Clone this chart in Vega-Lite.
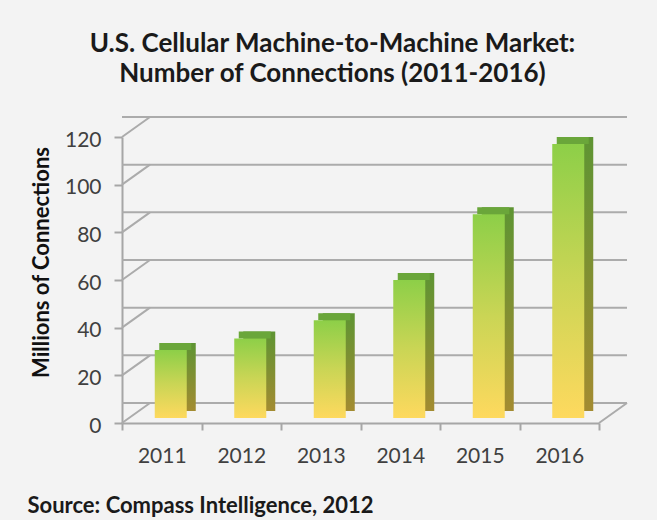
{
  "$schema": "https://vega.github.io/schema/vega-lite/v6.json",
  "width": 477,
  "height": 286,
  "autosize": {"type": "none"},
  "padding": {"left": 122, "top": 137, "right": 58, "bottom": 97},
  "background": "#f3f3f3",
  "config": {"view": {"stroke": null}, "font": "Lato"},
  "title": {
    "text": ["U.S. Cellular Machine-to-Machine Market:", "Number of Connections (2011-2016)"],
    "font": "Lato",
    "fontSize": 26,
    "fontWeight": "bold",
    "color": "#1a1a1a",
    "lineHeight": 30,
    "anchor": "middle",
    "frame": "group",
    "dx": -28,
    "baseline": "bottom",
    "offset": 3
  },
  "datasets": {
    "conn": [
      {"year": "2011", "connections": 28.5},
      {"year": "2012", "connections": 33.4},
      {"year": "2013", "connections": 41},
      {"year": "2014", "connections": 57.9},
      {"year": "2015", "connections": 85.5},
      {"year": "2016", "connections": 115}
    ],
    "grid": [
      {"connections": 0}, {"connections": 20}, {"connections": 40}, {"connections": 60},
      {"connections": 80}, {"connections": 100}, {"connections": 120}
    ]
  },
  "layer": [
    {
      "data": {"name": "grid"},
      "mark": {"type": "rule", "color": "#ababab", "strokeWidth": 2, "xOffset": 28, "x2Offset": 28, "yOffset": -20},
      "encoding": {
        "y": {"field": "connections", "type": "quantitative", "scale": {"domain": [0, 120], "nice": false}}
      }
    },
    {
      "data": {"name": "grid"},
      "mark": {"type": "rule", "color": "#ababab", "strokeWidth": 2, "x2Offset": 28, "y2Offset": -20},
      "encoding": {
        "x": {"datum": "2011", "type": "nominal", "bandPosition": 0},
        "x2": {"datum": "2011", "bandPosition": 0},
        "y": {"field": "connections", "type": "quantitative"},
        "y2": {"field": "connections"}
      }
    },
    {
      "data": {"values": [{"connections": 0}]},
      "mark": {"type": "rule", "color": "#ababab", "strokeWidth": 2, "x2Offset": 28, "y2Offset": -20},
      "encoding": {
        "x": {"datum": "2016", "type": "nominal", "bandPosition": 1},
        "x2": {"datum": "2016", "bandPosition": 1},
        "y": {"field": "connections", "type": "quantitative"},
        "y2": {"field": "connections"}
      }
    },
    {
      "data": {"name": "conn"},
      "mark": {
        "type": "bar", "width": 32, "xOffset": 18, "yOffset": -12, "y2Offset": -12,
        "color": {"gradient": "linear", "x1": 0, "y1": 0, "x2": 0, "y2": 1,
          "stops": [{"offset": 0, "color": "#5e9433"}, {"offset": 1, "color": "#a38b31"}]}
      },
      "encoding": {
        "x": {"field": "year", "type": "nominal"},
        "y": {"field": "connections", "type": "quantitative"}
      }
    },
    {
      "data": {"name": "conn"},
      "mark": {"type": "bar", "width": 32, "xOffset": 13.5, "yOffset": -12, "y2Offset": -5, "color": "#6aa63a"},
      "encoding": {
        "x": {"field": "year", "type": "nominal"},
        "y": {"field": "connections", "type": "quantitative"},
        "y2": {"field": "connections"}
      }
    },
    {
      "data": {"name": "conn"},
      "mark": {
        "type": "bar", "width": 32, "xOffset": 9, "yOffset": -5, "y2Offset": -5,
        "color": {"gradient": "linear", "x1": 0, "y1": 0, "x2": 0, "y2": 1,
          "stops": [{"offset": 0, "color": "#8dcf48"}, {"offset": 0.5, "color": "#cad555"}, {"offset": 1, "color": "#fed95e"}]}
      },
      "encoding": {
        "x": {
          "field": "year", "type": "nominal",
          "scale": {"paddingInner": 0, "paddingOuter": 0},
          "axis": {
            "title": "Source: Compass Intelligence, 2012",
            "titleFont": "Lato", "titleFontSize": 22, "titleFontWeight": "bold", "titleColor": "#1a1a1a",
            "titleAlign": "left", "titleBaseline": "alphabetic", "titleX": -95, "titleY": 89, "titleAnchor": null,
            "labelAngle": 0, "labelAlign": "center", "bandPosition": 0.5,
            "labelFont": "Lato", "labelFontSize": 21, "labelColor": "#404040", "labelPadding": 26,
            "domainColor": "#a6a6a6", "domainWidth": 2, "tickColor": "#a6a6a6", "tickWidth": 2, "tickSize": 7,
            "tickBand": "extent", "grid": false
          }
        },
        "y": {
          "field": "connections", "type": "quantitative",
          "axis": {
            "title": "Millions of Connections",
            "titleFont": "Lato", "titleFontSize": 22, "titleFontWeight": "bold", "titleColor": "#111111",
            "titleAngle": 270, "titleAlign": "center", "titleBaseline": "middle", "titleX": -81, "titleY": 125,
            "values": [0, 20, 40, 60, 80, 100, 120],
            "labelFont": "Lato", "labelFontSize": 21, "labelColor": "#404040", "labelPadding": 13, "labelOffset": 3,
            "domainColor": "#a6a6a6", "domainWidth": 2, "tickColor": "#a6a6a6", "tickWidth": 2, "tickSize": 8,
            "grid": false
          }
        }
      }
    }
  ]
}
